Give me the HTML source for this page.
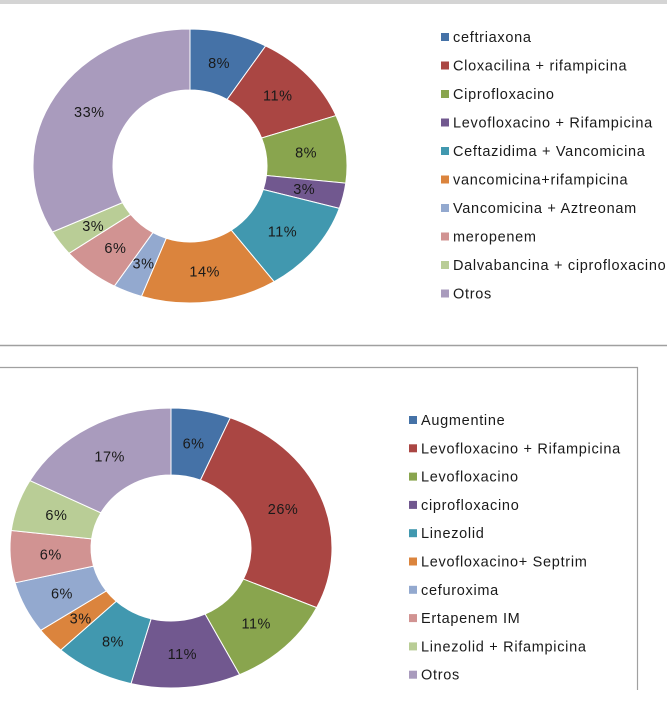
<!DOCTYPE html>
<html><head><meta charset="utf-8">
<style>
body{margin:0;background:#fff;width:667px;height:701px;overflow:hidden;font-family:"Liberation Sans",sans-serif;}
svg{position:absolute;left:0;top:0}
</style></head>
<body>
<svg width="667" height="701" id="svg">
<rect x="0" y="0" width="667" height="4" fill="#d4d4d4"/>
<line x1="0" y1="345.5" x2="667" y2="345.5" stroke="#a0a0a0" stroke-width="1.5"/>
<polyline points="0,367.5 637.5,367.5 637.5,690" fill="none" stroke="#a0a0a0" stroke-width="1.2"/>
<g id="c1"></g>
<g id="c2"></g>
</svg>
<script>
const colors=["#4572A7","#AA4643","#89A54E","#71588F","#4198AF","#DB843D","#93A9CF","#D19392","#B9CD96","#A99BBD"];
const topCategories=["ceftriaxona","Cloxacilina + rifampicina","Ciprofloxacino","Levofloxacino + Rifampicina","Ceftazidima + Vancomicina","vancomicina+rifampicina","Vancomicina + Aztreonam","meropenem","Dalvabancina + ciprofloxacino","Otros"];
const topValues=[8,11,8,3,11,14,3,6,3,33];
const bottomCategories=["Augmentine","Levofloxacino + Rifampicina","Levofloxacino","ciprofloxacino","Linezolid","Levofloxacino+ Septrim","cefuroxima","Ertapenem IM","Linezolid + Rifampicina","Otros"];
const bottomValues=[6,26,11,11,8,3,6,6,6,17];
const NS="http://www.w3.org/2000/svg";
function donut(gid,cats,vals,cx,cy,rx,ry,irx,iry,lx,ly0,ldy,prefix){
  const g=document.getElementById(gid);
  const total=vals.reduce((a,b)=>a+b,0);
  let acc=0;
  vals.forEach((v,i)=>{
    const a0=acc/total*2*Math.PI, a1=(acc+v)/total*2*Math.PI; acc+=v;
    const P=(a,rX,rY)=>[cx+rX*Math.sin(a),cy-rY*Math.cos(a)];
    const [x0,y0]=P(a0,rx,ry),[x1,y1]=P(a1,rx,ry),[x2,y2]=P(a1,irx,iry),[x3,y3]=P(a0,irx,iry);
    const lg=(a1-a0)>Math.PI?1:0;
    const p=document.createElementNS(NS,"path");
    p.setAttribute("d",`M${x0},${y0}A${rx},${ry} 0 ${lg} 1 ${x1},${y1}L${x2},${y2}A${irx},${iry} 0 ${lg} 0 ${x3},${y3}Z`);
    p.setAttribute("fill",colors[i]);p.setAttribute("stroke","#fff");p.setAttribute("stroke-width","1");
    
    
    g.appendChild(p);
    const am=(a0+a1)/2;const [tx,ty]=P(am,(rx+irx)/2,(ry+iry)/2);
    const t=document.createElementNS(NS,"text");
    t.setAttribute("x",tx);t.setAttribute("y",ty+5);t.setAttribute("text-anchor","middle");
    t.setAttribute("font-size","14.5");t.setAttribute("letter-spacing","0.5");t.setAttribute("fill","#1a1a1a");
    t.textContent=v+"%";
    
    
    g.appendChild(t);
  });
  cats.forEach((c,i)=>{
    const y=ly0+i*ldy;
    const r=document.createElementNS(NS,"rect");
    r.setAttribute("x",lx);r.setAttribute("y",y-4);r.setAttribute("width",8);r.setAttribute("height",8);r.setAttribute("fill",colors[i]);
    
    
    g.appendChild(r);
    const t=document.createElementNS(NS,"text");
    t.setAttribute("x",lx+12);t.setAttribute("y",y+5);t.setAttribute("font-size","14.5");t.setAttribute("letter-spacing","0.7");t.setAttribute("fill","#1a1a1a");
    t.textContent=c;
    
    
    g.appendChild(t);
  });
}
donut("c1",topCategories,topValues,190,166,157,137,77,76,441,37,28.5,"top");
donut("c2",bottomCategories,bottomValues,171,548,161,140,80,73,409,420,28.3,"bottom");
</script>
</body></html>
